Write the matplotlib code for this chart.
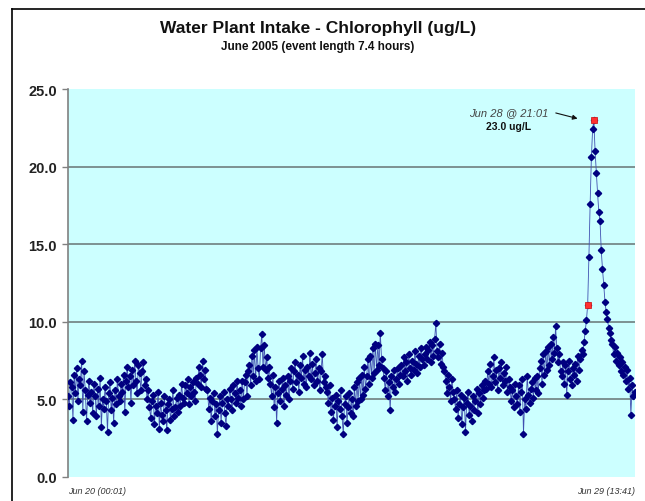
import matplotlib
matplotlib.use('Agg')
import matplotlib.pyplot as plt
import numpy as np
from matplotlib.lines import Line2D

# chlorophyll readings (ug/L), one every 30 minutes from Jun 20 00:01
chl_part1 = [5.2, 4.6, 6.1, 5.8, 3.7, 6.6, 5.4, 7.0, 4.9, 6.3,
             5.9, 7.5, 4.2, 6.8, 5.6, 3.6, 5.3, 6.2, 4.8, 5.5,
             4.1, 6.0, 5.2, 3.9, 5.7, 4.6, 6.4, 3.2, 5.0, 4.4,
             5.8, 4.9, 2.9, 5.4, 6.1, 4.3, 5.1, 3.5, 5.6, 4.7,
             6.3, 5.2, 4.9, 6.0, 5.5, 6.6, 4.2, 6.2, 7.1, 5.8,
             6.5, 4.8, 6.9, 5.9, 7.5, 6.2, 5.4, 7.2, 6.7, 5.6,
             6.8, 7.4, 5.9, 6.3, 5.0, 5.6, 4.5, 3.8, 4.9, 5.3,
             3.4, 4.6, 4.1, 5.5, 3.1, 4.8, 4.0, 3.6, 5.2, 4.3,
             3.0, 4.7, 5.0, 3.7, 4.4, 5.6, 3.9, 4.5, 5.1, 4.2,
             5.3, 4.6, 6.0, 5.1, 4.8, 5.9, 5.4, 6.3, 4.7, 5.8]
chl_part2 = [5.2, 6.1, 5.5, 4.9, 6.4, 6.0, 7.1, 6.6, 5.8, 7.5,
             6.3, 6.9, 5.7, 5.6, 4.4, 5.1, 3.6, 4.9, 5.4, 3.9,
             4.7, 2.8, 4.3, 5.2, 3.5, 4.8, 5.5, 4.1, 3.3, 5.0,
             4.6, 5.7, 5.0, 4.3, 5.9, 5.4, 4.8, 6.2, 5.1, 5.6,
             4.6, 6.2, 5.0, 6.1, 6.6, 5.2, 6.8, 7.2, 5.9, 7.8,
             6.5, 8.2, 6.2, 8.4, 7.0, 6.3, 8.3, 9.2, 7.1, 8.5,
             6.9, 7.7, 6.4, 7.1, 6.0, 5.2, 6.6, 4.5, 5.8, 3.5,
             5.4, 6.2, 4.9, 5.7, 6.4, 4.6, 5.9, 5.3, 6.5, 5.0,
             6.2, 7.0, 5.7, 6.8, 7.4, 6.1, 6.6, 5.5, 7.2, 6.4,
             7.8, 6.0, 6.9, 5.8, 7.1, 6.5, 8.0, 6.3, 7.3, 5.9]
chl_part3 = [6.7, 7.6, 6.2, 7.0, 5.6, 6.8, 7.9, 6.1, 6.5, 5.8,
             5.5, 4.8, 5.9, 4.2, 5.1, 3.7, 4.6, 5.3, 3.2, 4.9,
             4.4, 5.6, 3.9, 2.8, 4.7, 5.2, 3.5, 4.5, 5.4, 4.1,
             5.0, 3.9, 5.8, 4.6, 6.1, 4.9, 6.4, 5.0, 6.6, 5.3,
             7.1, 5.7, 6.5, 7.6, 6.0, 7.8, 6.4, 8.3, 6.7, 8.6,
             6.9, 8.5, 7.2, 9.3, 7.6, 7.0, 6.4, 5.6, 6.8, 5.2,
             6.1, 4.3, 6.5, 5.8, 6.9, 5.5, 6.3, 7.0, 6.0, 6.6,
             7.2, 6.5, 7.7, 6.8, 7.4, 6.2, 7.9, 7.0, 6.6, 7.5,
             6.9, 8.1, 7.3, 6.7, 7.8, 7.1, 8.3, 7.6, 7.2, 7.9,
             8.4, 7.6, 8.2, 8.7, 7.4, 8.5, 7.8, 8.9, 9.9, 8.1]
chl_part4 = [7.7, 8.6, 7.3, 8.0, 7.1, 6.8, 6.2, 5.4, 6.6, 5.8,
             4.9, 6.3, 5.5, 5.0, 4.4, 5.6, 3.8, 4.7, 5.3, 3.4,
             4.5, 5.1, 2.9, 4.8, 5.5, 4.0, 4.6, 3.6, 5.2, 4.3,
             4.9, 5.7, 4.1, 5.4, 4.7, 5.9, 5.1, 5.6, 6.2, 5.7,
             6.8, 6.0, 7.3, 5.8, 6.5, 7.7, 6.1, 6.9, 5.6, 7.0,
             6.4, 7.4, 5.9, 6.7, 6.2, 7.1, 5.5, 6.3, 5.8, 4.9,
             5.6, 4.5, 6.0, 5.2, 4.7, 5.9, 4.2, 5.5, 6.3, 2.8,
             5.0, 4.4, 6.5, 5.3, 4.8, 5.7, 6.1, 5.1, 6.4, 5.6,
             6.5, 5.4, 7.0, 7.5, 6.0, 7.9, 6.6, 8.1, 6.9, 8.4,
             7.2, 8.6, 7.6, 9.0, 8.0, 9.7, 8.3, 7.4, 7.9, 6.8]
chl_part5 = [6.5, 7.4, 6.0, 7.2, 5.3, 6.8, 7.5, 6.3, 5.9, 7.0,
             6.6, 7.3, 6.2, 7.8, 6.9, 7.6, 8.2, 7.9, 8.7, 9.4,
             10.1, 11.1, 14.2, 17.6, 20.6, 22.4, 23.0, 21.0, 19.6, 18.3,
             17.1, 16.5, 14.6, 13.4, 12.4, 11.3, 10.6, 10.2, 9.6, 9.3,
             8.8, 8.6, 7.9, 8.4, 7.5, 8.0, 7.2, 7.7, 6.8, 7.4,
             6.6, 7.1, 6.2, 6.9, 5.7, 6.4, 4.0, 5.9, 5.2, 5.5]

step_hours = 0.5
span_hours = 229.67          # Jun 20 00:01 -> Jun 29 13:41
flag_idx = [421, 426]        # event start / peak (red squares)

title = 'Water Plant Intake - Chlorophyll (ug/L)'
subtitle = 'June 2005 (event length 7.4 hours)'
start_label = 'Jun 20 (00:01)'
end_label = 'Jun 29 (13:41)'
peak_time = 'Jun 28 @ 21:01'
peak_text = '23.0 ug/L'
y_ticks = [0, 5, 10, 15, 20, 25]

chl = np.array(chl_part1 + chl_part2 + chl_part3 + chl_part4 + chl_part5)
hours = np.arange(len(chl)) * step_hours

plt.rcParams['font.family'] = ['Liberation Sans', 'DejaVu Sans']

fig = plt.figure(figsize=(6.45, 5.02), dpi=100)
ax = fig.add_axes([68/645, 24/502, 567/645, 388/502])
ax.set_facecolor('#ccffff')

for v in y_ticks[1:-1]:
    ax.axhline(v, color='#6f7f7f', lw=1.2, zorder=1)

ax.plot(hours, chl, '-', color='#4050b0', lw=0.6, zorder=3)
ax.plot(hours, chl, 'D', ms=3.2, color='#000080', zorder=4)
ax.plot(hours[flag_idx], chl[flag_idx], 's', ms=5, mfc='#ff3030',
        mec='#d02020', mew=0.6, zorder=5)

ax.set_xlim(0, span_hours)
ax.set_ylim(0, 25)
ax.set_xticks([])
ax.set_yticks(y_ticks)
ax.set_yticklabels(['%.1f' % v for v in y_ticks], fontsize=10.5, fontweight='bold',
                   color='#222222')
ax.tick_params(axis='y', length=4, width=1, color='#808080', pad=4)
for s in ['top', 'right', 'bottom']:
    ax.spines[s].set_visible(False)
ax.spines['left'].set_color('#808080')
ax.spines['left'].set_linewidth(1.2)

ax.text(0, -0.035, start_label, transform=ax.transAxes, ha='left', va='center',
        fontsize=6.5, style='italic', color='#333333')
ax.text(1, -0.035, end_label, transform=ax.transAxes, ha='right', va='center',
        fontsize=6.5, style='italic', color='#333333')

# peak call-out
pk = flag_idx[1]
ax.text(hours[pk] - 34.5, chl[pk] + 0.5, peak_time, ha='center', va='center',
        fontsize=8, style='italic', color='#444444')
ax.text(hours[pk] - 34.5, chl[pk] - 0.4, peak_text, ha='center', va='center',
        fontsize=7.5, fontweight='bold', color='#111111')
ax.annotate('', xy=(hours[pk] - 5.5, chl[pk] + 0.05),
            xytext=(hours[pk] - 16.5, chl[pk] + 0.5),
            arrowprops=dict(arrowstyle='-|>', color='#111111', lw=0.8,
                            mutation_scale=7))

fig.text(318/645, 1 - 29/502, title, ha='center', va='center',
         fontsize=12.5, fontweight='bold', color='#111111')
fig.text(318/645, 1 - 47/502, subtitle, ha='center', va='center',
         fontsize=8.5, fontweight='bold', color='#111111')

# outer frame (cut off on the right and bottom)
fig.add_artist(Line2D([12/645, 1], [1 - 10/502, 1 - 10/502],
                      transform=fig.transFigure, color='black', lw=1.2))
fig.add_artist(Line2D([12/645, 12/645], [0, 1 - 10/502],
                      transform=fig.transFigure, color='black', lw=1.2))

fig.savefig('out.png', dpi=100)
